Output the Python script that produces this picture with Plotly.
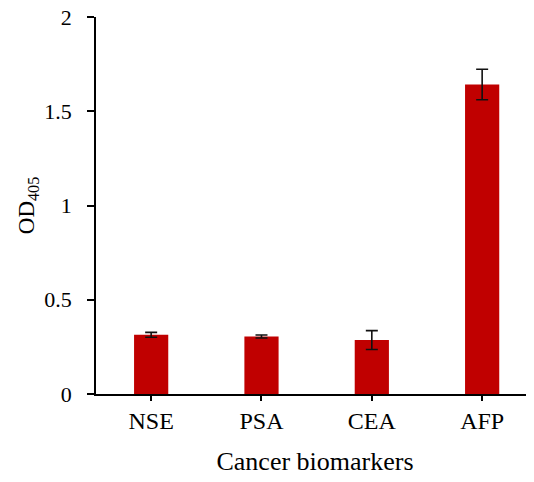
import plotly.graph_objects as go

categories = ["NSE", "PSA", "CEA", "AFP"]
od_values = [0.314, 0.305, 0.286, 1.642]
od_errors = [0.013, 0.008, 0.050, 0.081]
y_tick_vals = [0, 0.5, 1, 1.5, 2]
y_tick_text = ["0", "0.5", "1", "1.5", "2"]

x_pos = list(range(len(categories)))

FONT = "Liberation Serif, Times New Roman, serif"

fig = go.Figure()
fig.add_trace(go.Bar(
    x=x_pos, y=od_values, width=0.31,
    marker=dict(color="#C00000", line=dict(width=0)),
    error_y=dict(type="data", array=od_errors, visible=True,
                 color="#111111", thickness=1.6, width=6),
    showlegend=False,
))

common_x = dict(range=[-0.5, 3.47], showgrid=False, zeroline=False,
                showline=True, linecolor="black", linewidth=1.6, automargin=False,
                tickvals=x_pos, tickcolor="black", tickwidth=1.6, ticklen=5,
                ticklabeloverflow="allow")
common_y = dict(range=[0, 2], showgrid=False, zeroline=False,
                showline=True, linecolor="black", linewidth=1.6, automargin=False,
                tickvals=y_tick_vals, tickcolor="black", tickwidth=1.6, ticklen=7,
                ticklabeloverflow="allow")

fig.update_layout(
    width=526, height=474,
    margin=dict(l=88, r=0, t=9, b=88),
    plot_bgcolor="white", paper_bgcolor="white",
    font=dict(family=FONT, size=22, color="black"),
    xaxis=dict(**common_x, ticks="outside", ticktext=categories,
               tickfont=dict(size=24), ticklabelstandoff=-1,
               title=dict(text="Cancer biomarkers", font=dict(size=26), standoff=19)),
    yaxis=dict(**common_y, ticks="outside", ticktext=y_tick_text,
               tickfont=dict(size=22), ticklabelstandoff=11,
               title=dict(text="OD<sub>405</sub>", font=dict(size=23), standoff=3)),
    xaxis2=dict(**common_x, ticks="inside", overlaying="x", anchor="y",
                showticklabels=False),
    yaxis2=dict(**common_y, ticks="inside", overlaying="y", anchor="x",
                side="left", showticklabels=False,
                minor=dict(dtick=0.25, ticks="inside", ticklen=5,
                           tickcolor="black", tickwidth=1.6)),
)

fig.write_html("out.html")
